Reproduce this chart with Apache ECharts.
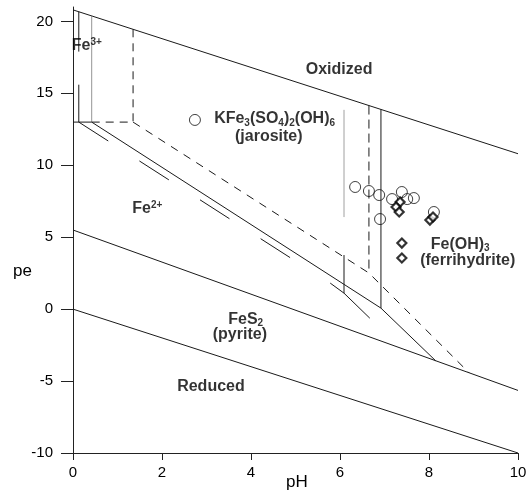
<!DOCTYPE html>
<html>
<head>
<meta charset="utf-8">
<script src="https://cdn.jsdelivr.net/npm/echarts@6/dist/echarts.min.js"></script>
<style>
  html, body { margin: 0; padding: 0; background: #fff; }
  #chart { width: 529px; height: 493px; }
</style>
</head>
<body>
<div id="chart"></div>
<script>
// pe-pH boundaries, [pH, pe]
const upperLimit = [[0, 20.8], [10, 10.8]];
const lowerLimit = [[0, 0], [10, -10]];
const pyriteTop = [[0, 5.5], [10, -5.65]];
const fe3SolidA = [[0.13, 20.67], [0.13, 17.9]];
const fe3SolidB = [[0.13, 15.6], [0.13, 13.0]];
const fe3Floor = [[0, 13.0], [0.42, 13.0]];
const fe3Thin = [[0.42, 20.38], [0.42, 13.0]];
const dashVertLeft = [[1.35, 19.45], [1.35, 13.0]];
const dashFloor = [[0.42, 13.0], [1.35, 13.0]];
const dashDiag = [[1.35, 13.0], [6.65, 2.51], [8.9, -4.42]];
const dashVertRight = [[6.65, 14.15], [6.65, 2.51]];
const solidDiag = [[0.42, 13.0], [6.92, 0.07], [8.15, -3.59]];
const solidVert = [[6.92, 13.88], [6.92, 0.07]];
const longDash = [[0.13, 13.0], [5.55, 2.25]];
const longDashEnd = [[5.78, 1.81], [6.09, 1.11], [6.67, -0.63]];
const midVertUpper = [[6.09, 13.85], [6.09, 6.4]];
const midVertLower = [[6.09, 3.76], [6.09, 1.11]];

// samples
const jarositePH = [6.34, 6.65, 6.88, 6.90, 7.17, 7.39, 7.51, 7.66, 8.11, 2.74];
const jarositePE = [8.49, 8.21, 7.93, 6.26, 7.65, 8.14, 7.65, 7.72, 6.75, 13.15];
const ferriPH = [7.35, 7.26, 7.33, 8.02, 8.09, 7.39, 7.39];
const ferriPE = [7.45, 7.10, 6.75, 6.19, 6.40, 4.59, 3.55];

// field labels
const labelTexts = [
  '{b|Fe}{sup|3+}', '{b|Oxidized}', '{b|KFe}{sub|3}{b|(SO}{sub|4}{b|)}{sub|2}{b|(OH)}{sub|6}',
  '{b|(jarosite)}', '{b|Fe}{sup|2+}', '{b|FeS}{sub|2}', '{b|(pyrite)}', '{b|Reduced}',
  '{b|Fe(OH)}{sub|3}', '{b|(ferrihydrite)}'
];
const labelPH = [0.31, 5.98, 4.53, 4.40, 1.67, 3.88, 3.75, 3.10, 8.70, 8.87];
const labelPE = [18.3, 16.63, 13.22, 12.0, 6.96, -0.70, -1.74, -5.36, 4.52, 3.34];

const xTicks = [0, 2, 4, 6, 8, 10];
const yTicks = [-10, -5, 0, 5, 10, 15, 20];

const font = 'Liberation Sans, Arial, Helvetica, sans-serif';
const chart = echarts.init(document.getElementById('chart'));

function seg(data, type, color, width) {
  return {
    type: 'line', data: data, symbol: 'none', silent: true, z: 2,
    lineStyle: { color: color || '#1a1a1a', width: width || 1, type: type || 'solid' }
  };
}

const zip = (a, b) => a.map((v, i) => [v, b[i]]);

const option = {
  animation: false,
  backgroundColor: '#fff',
  grid: { left: 73, right: 11, top: 7, bottom: 40, outerBoundsMode: 'none' },
  graphic: [
    { type: 'text', left: 13, top: 263, style: { text: 'pe', fontSize: 17, fill: '#000', fontFamily: font } },
    { type: 'text', left: 286, top: 474, style: { text: 'pH', fontSize: 17, fill: '#000', fontFamily: font } }
  ],
  xAxis: {
    type: 'value', min: 0, max: 10, interval: 2,
    axisLine: { onZero: false, lineStyle: { color: '#222', width: 1 } },
    axisTick: { inside: false, length: 7, lineStyle: { color: '#222' }, customValues: xTicks },
    axisLabel: { fontSize: 15, color: '#000', margin: 12, fontFamily: font, customValues: xTicks },
    splitLine: { show: false }
  },
  yAxis: {
    type: 'value', min: -10, max: 21, interval: 5,
    axisLine: { onZero: false, lineStyle: { color: '#222', width: 1 } },
    axisTick: { inside: false, length: 12, lineStyle: { color: '#222' }, customValues: yTicks },
    axisLabel: { fontSize: 15, color: '#000', margin: 20, fontFamily: font, customValues: yTicks },
    splitLine: { show: false }
  },
  series: [
    seg(upperLimit), seg(lowerLimit), seg(pyriteTop),
    seg(fe3SolidA), seg(fe3SolidB), seg(fe3Floor),
    seg(fe3Thin, 'solid', '#777', 0.8),
    seg(dashVertLeft, [8, 6]), seg(dashFloor, [8, 6]),
    seg(dashDiag, [8, 7]), seg(dashVertRight, [9, 5]),
    seg(solidDiag), seg(solidVert),
    seg(longDash, [35, 37]), seg(longDashEnd),
    seg(midVertUpper, 'solid', '#888', 0.8), seg(midVertLower),
    {
      type: 'scatter', data: zip(jarositePH, jarositePE), symbol: 'circle', symbolSize: 11, z: 3,
      itemStyle: { color: 'rgba(255,255,255,0)', borderColor: '#111', borderWidth: 1 }
    },
    {
      type: 'scatter', data: zip(ferriPH, ferriPE), symbol: 'diamond', symbolSize: 9, z: 4,
      itemStyle: { color: '#fff', borderColor: '#000', borderWidth: 2.2 }
    },
    {
      type: 'scatter', silent: true, z: 5, symbolSize: 1, clip: false,
      itemStyle: { color: 'rgba(0,0,0,0)' },
      data: labelTexts.map((t, i) => ({ value: [labelPH[i], labelPE[i]], label: { formatter: t } })),
      label: {
        show: true, position: 'inside', color: '#000', fontFamily: font,
        rich: {
          b: { fontSize: 16, fontWeight: 'bold', color: '#000', fontFamily: font, lineHeight: 20 },
          sup: { fontSize: 10, fontWeight: 'bold', color: '#000', fontFamily: font, padding: [0, 0, 8, 0] },
          sub: { fontSize: 10, fontWeight: 'bold', color: '#000', fontFamily: font, padding: [8, 0, 0, 0] }
        }
      }
    }
  ]
};

chart.setOption(option);
</script>
</body>
</html>
